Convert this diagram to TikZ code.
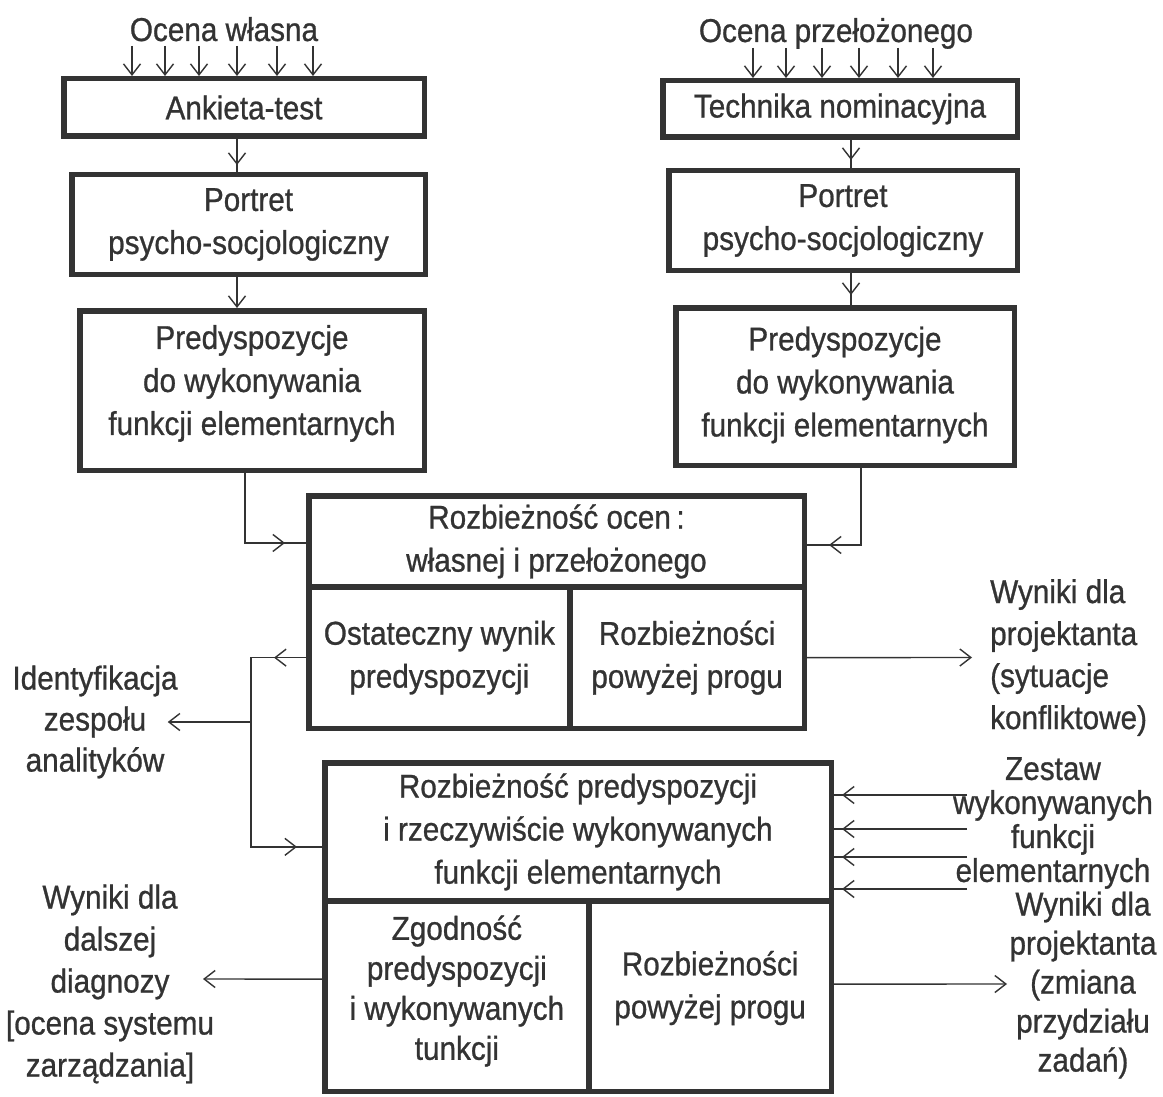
\documentclass[tikz,border=0pt]{standalone}
\usepackage{fontspec}
\setmainfont[FakeStretch=0.9,FakeBold=0.8]{Liberation Sans}
\usetikzlibrary{arrows.meta,decorations.markings,calc}
\definecolor{ink}{gray}{0.2}
\tikzset{
  vtip/.tip={Straight Barb[length=11pt,width=17pt]},
  box/.style={draw=ink, line width=5.5pt, inner sep=0pt, align=center, text=ink,
              font=\fontsize{33pt}{43pt}\selectfont},
  lbl/.style={inner sep=0pt, align=center, text=ink},
  conn/.style={draw=ink, line width=1.4pt},
  midtip/.style={postaction={decorate,decoration={markings,mark=at position #1 with {\arrow{vtip}}}}},
  busmarks/.style={postaction={decorate,decoration={markings,
      mark=at position 32pt with {\arrow{vtip}},
      mark=at position -25pt with {\arrow{vtip}}}}}
}
\begin{document}
\begin{tikzpicture}[x=1pt,y=-1pt]
\fill[white] (0,0) rectangle (1163,1097);
\useasboundingbox (0,0) rectangle (1163,1097);

% --- top labels
\node[lbl, anchor=base, font=\fontsize{33pt}{36pt}\selectfont] (ow) at (224,41) {Ocena własna};
\node[lbl, anchor=base, font=\fontsize{33pt}{36pt}\selectfont] (op) at (836,42) {Ocena przełożonego};
\coordinate (owB) at (0,46);
\coordinate (opB) at (0,48);

% --- left column
\node[box, minimum width=360.5pt, minimum height=57.5pt] (A1) at (244,107.5) {Ankieta-test};
\node[box, minimum width=353.5pt, minimum height=99.5pt] (P1) at (248.5,224.5) {Portret\\psycho-socjologiczny};
\node[box, minimum width=344.5pt, minimum height=159.5pt] (Pr1) at (252,390.5) {Predyspozycje\\do wykonywania\\funkcji elementarnych\\[-22pt]\mbox{}};

% --- right column
\node[box, minimum width=354.5pt, minimum height=56.5pt] (A2) at (840,109) {Technika nominacyjna};
\node[box, minimum width=348.5pt, minimum height=99.5pt] (P2) at (843,220.5) {Portret\\psycho-socjologiczny};
\node[box, minimum width=338.5pt, minimum height=157.5pt] (Pr2) at (845,386.5) {Predyspozycje\\do wykonywania\\funkcji elementarnych\\[-33pt]\mbox{}};

% --- middle compound box
\node[box, minimum width=495.5pt, minimum height=91.25pt] (Rtop) at (556.5,541.375) {Rozbieżność ocen\,:\\własnej i przełożonego};
\node[box, minimum width=261.25pt, minimum height=141.25pt] (R1) at (439.375,657.625) {Ostateczny wynik\\predyspozycji};
\node[box, minimum width=234.25pt, minimum height=141.25pt] (R2) at (687.125,657.625) {Rozbieżności\\powyżej progu};

% --- bottom compound box
\node[box, minimum width=506.5pt, minimum height=138.25pt] (Btop) at (578,831.875) {Rozbieżność predyspozycji\\i rzeczywiście wykonywanych\\funkcji elementarnych};
\node[box, minimum width=264.25pt, minimum height=190.25pt, font=\fontsize{33pt}{40pt}\selectfont] (B1) at (456.875,996.125) {Zgodność\\predyspozycji\\i wykonywanych\\tunkcji\\[-23pt]\mbox{}};
\node[box, minimum width=242.25pt, minimum height=190.25pt] (B2) at (710.125,996.125) {Rozbieżności\\powyżej progu\\[-20pt]\mbox{}};

% --- side labels
\node[lbl, font=\fontsize{33pt}{41pt}\selectfont] (ident) at (95,722) {Identyfikacja\\zespołu\\analityków};
\node[lbl, align=left, anchor=west, font=\fontsize{33pt}{42pt}\selectfont] (wyn1) at (990,657.5) {Wyniki dla\\projektanta\\(sytuacje\\konfliktowe)};
\node[lbl, font=\fontsize{33pt}{34pt}\selectfont] (zest) at (1053,823) {Zestaw\\wykonywanych\\funkcji\\elementarnych};
\node[lbl, font=\fontsize{33pt}{42pt}\selectfont] (wdd) at (110,984) {Wyniki dla\\dalszej\\diagnozy\\{[}ocena systemu\\zarządzania{]}};
\node[lbl, font=\fontsize{33pt}{39pt}\selectfont] (wpz) at (1083,985) {Wyniki dla\\projektanta\\(zmiana\\przydziału\\zadań)};

\coordinate (wddTip) at (203,979);
\coordinate (wpzTip) at (1007,984);
\coordinate (busL) at (251,0);
\coordinate (zR) at (967,0);

% --- connectors
\foreach \x in {132,165,199,237,277,313}
  \draw[conn,-{vtip}] (\x,0 |- owB) -- (\x,0 |- A1.north);
\foreach \x in {753,786,822,859,898,933}
  \draw[conn,-{vtip}] (\x,0 |- opB) -- (\x,0 |- A2.north);

\draw[conn, midtip=-7pt] ([xshift=-7pt]A1.south) -- ([xshift=-7pt]A1.south |- P1.north);
\draw[conn,-{vtip}] ([xshift=-11.5pt]P1.south) -- ([xshift=-11.5pt]P1.south |- Pr1.north);
\draw[conn, midtip=-8pt] ([xshift=11pt]A2.south) -- ([xshift=11pt]A2.south |- P2.north);
\draw[conn, midtip=-10pt] ([xshift=8pt]P2.south) -- ([xshift=8pt]P2.south |- Pr2.north);

\draw[conn, midtip=-21pt] ([xshift=-7pt]Pr1.south) |- ([yshift=-1.6pt]Rtop.west);
\draw[conn, midtip=-22pt] ([xshift=16pt]Pr2.south) |- ([yshift=-3.6pt]Rtop.east);

\draw[conn,-{vtip}] (R2.east) -- ([xshift=-18pt]wyn1.west);

\draw[conn, busmarks] (R1.west) -- (R1.west -| busL) |- ([yshift=-15pt]Btop.west);
\draw[conn,-{vtip}] (ident.east -| busL) -- ([xshift=-10pt]ident.east);

\foreach \y in {795,829,857,889}
  \draw[conn, midtip=-8pt] (zR |- 0,\y) -- (Btop.east |- 0,\y);

\draw[conn,-{vtip}] ([yshift=17pt]B1.west) -- (wddTip);
\draw[conn,-{vtip}] ([yshift=12pt]B2.east) -- (wpzTip);
\end{tikzpicture}
\end{document}
